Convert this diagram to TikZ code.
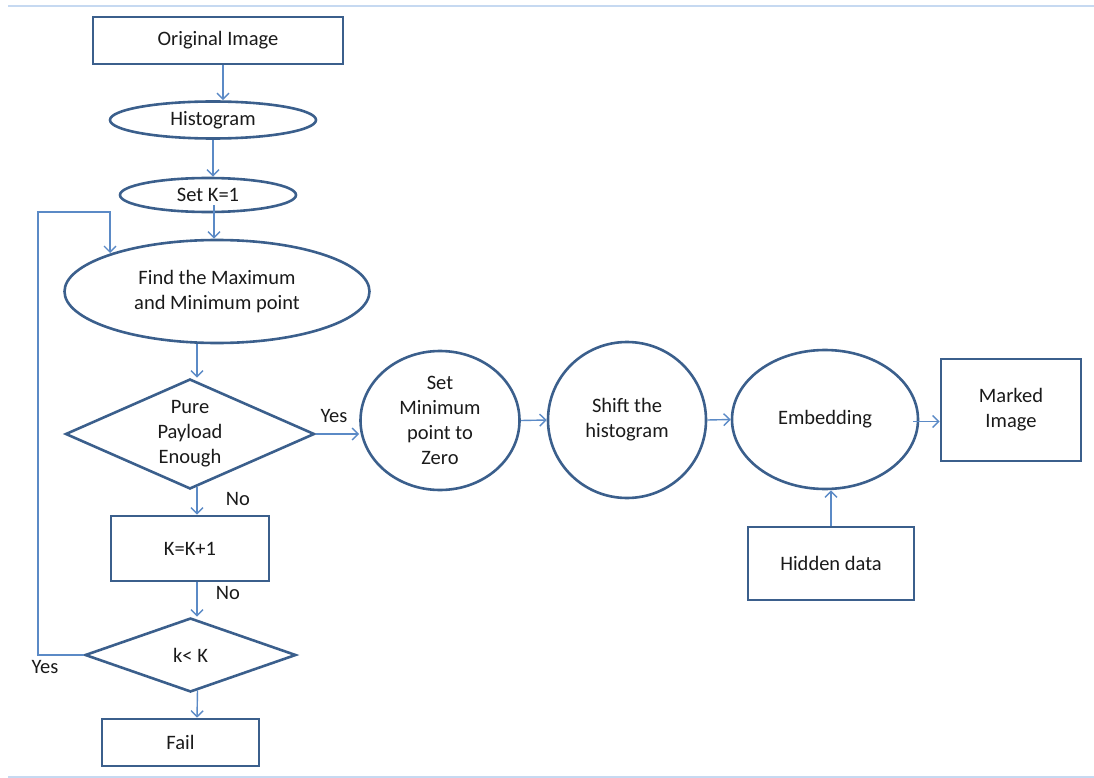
\documentclass[tikz,border=0pt]{standalone}
\usepackage{fontspec}
\setmainfont{Carlito}
\usetikzlibrary{shapes.geometric,arrows.meta}
\definecolor{bord}{HTML}{3B5F8C}
\definecolor{arrc}{HTML}{5B8AC6}
\definecolor{rulec}{HTML}{C6D9F1}
\definecolor{txt}{HTML}{1A1A1A}
\begin{document}
\begin{tikzpicture}[x=1pt,y=-1pt,
  font=\fontsize{20.5}{25}\selectfont, text=txt,
  base/.style={draw=bord, line width=2.6pt, inner sep=0pt, align=center},
  box/.style={base, rectangle},
  ell/.style={base, ellipse},
  dia/.style={base, diamond},
  arr/.style={draw=arrc, line width=1.4pt, -{Straight Barb[length=6pt,width=12pt]}},
  lbl/.style={inner sep=0pt}]
\useasboundingbox (0,0) rectangle (1094,778);
\draw[rulec, line width=2pt] (8,6) -- (1094,6);
\draw[rulec, line width=2pt] (8,777) -- (1094,777);

\node[box, minimum width=250pt, minimum height=47pt] (orig) at (218,40.5) {Original Image};
\node[ell, minimum width=206pt, minimum height=37pt] (hist) at (213,120) {Histogram};
\node[ell, minimum width=176pt, minimum height=34pt] (setk) at (208,195) {Set K=1};
\node[ell, minimum width=305pt, minimum height=103pt] (find) at (217,291.5) {Find the Maximum\\and Minimum point};
\node[dia, shape aspect=2.26, minimum width=249pt, minimum height=110pt] (pure) at (190,434) {Pure\\Payload\\Enough};
\node[box, minimum width=158pt, minimum height=65pt] (kk) at (190,548.5) {K=K+1};
\node[dia, shape aspect=2.85, minimum width=211pt, minimum height=74pt] (klt) at (190.5,655) {k< K};
\node[box, minimum width=157pt, minimum height=47pt] (fail) at (180.5,742.5) {Fail};

\node[ell, minimum width=159pt, minimum height=139pt] (setmin) at (440,420.5) {Set\\Minimum\\point to\\Zero};
\node[ell, minimum width=158pt, minimum height=156pt] (shift) at (627,420) {Shift the\\histogram};
\node[ell, minimum width=186pt, minimum height=139pt] (embed) at (825,419.5) {Embedding};
\node[box, minimum width=140pt, minimum height=102pt] (marked) at (1011,410) {Marked\\Image};
\node[box, minimum width=166pt, minimum height=73pt] (hidden) at (831,563.5) {Hidden data};

% vertical flow
\draw[arr] ([xshift=5pt]orig.south) -- ([xshift=5pt]orig.south |- hist.north);
\draw[arr] (hist.south) -- (hist.south |- setk.north);
\draw[arr] ([xshift=6pt,yshift=8pt]setk.south) -- ([xshift=6pt]setk.south |- find.north);
\draw[arr] ([xshift=-20pt]find.south) -- ([xshift=-20pt]find.south |- pure.north);
\draw[arr] ([xshift=7pt,yshift=3pt]pure.south) -- ([xshift=7pt]kk.north);
\draw[arr] ([xshift=7pt]kk.south) -- ([xshift=7pt]kk.south |- klt.north);
\draw[arr] ([xshift=7pt,yshift=3pt]klt.south) -- ([xshift=16.5pt]fail.north);

% loop back
\coordinate (lpa) at (38,212);
\coordinate (lpb) at (110,212);
\coordinate (lpend) at (110,253);
\draw[arr] (klt.west) -| (lpa) -- (lpb) -- (lpend);

% horizontal flow
\draw[arr] (pure.east) -- (pure.east -| setmin.west);
\draw[arr] (setmin.east) -- (shift.west);
\draw[arr] (shift.east) -- (embed.west);
\draw[arr] ([xshift=-6pt,yshift=-2pt]embed.east) -- ([yshift=-2pt]embed.east -| marked.west);
\draw[arr] (hidden.north) -- (hidden.north |- embed.south);

% labels
\node[lbl] (yes1) at (334,416) {Yes};
\node[lbl] (no1) at (238,499) {No};
\node[lbl] (no2) at (228,593) {No};
\node[lbl] (yes2) at (45,667) {Yes};
\end{tikzpicture}
\end{document}
